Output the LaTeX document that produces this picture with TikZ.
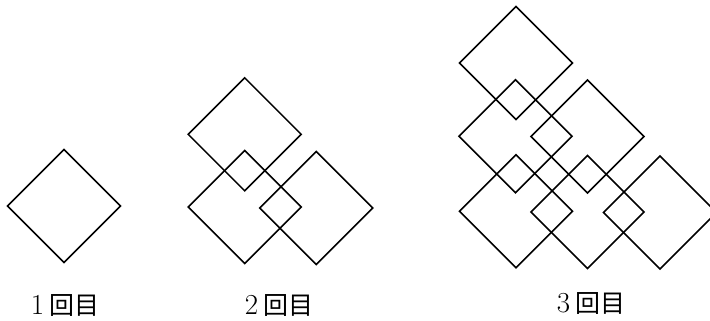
\documentclass[tikz,border=0pt]{standalone}
\usepackage{fontspec}
\newfontfamily\cjk{Noto Sans CJK JP}
\usetikzlibrary{shapes.geometric}

\begin{document}
\begin{tikzpicture}[
	x=1pt, y=-1pt,
	rhomb/.style={diamond, draw, line width=1.5pt, shape aspect=1, minimum size=113pt, inner sep=0pt, outer sep=0pt},
	caption/.style={anchor=base, inner sep=0pt, font=\fontsize{29}{29}\selectfont}
]
	\useasboundingbox (0,0) rectangle (710,321);

	% 1回目
	\node[rhomb] (r1) at (64,206) {};

	% 2回目
	\node[rhomb] (r2t) at (244.7,134.3) {};
	\node[rhomb] (r2l) at (244.7,207) {};
	\node[rhomb] (r2r) at (316.3,208) {};

	% 3回目
	\node[rhomb] (r3t) at (516,63) {};
	\node[rhomb] (r3ml) at (515.5,136.3) {};
	\node[rhomb] (r3mr) at (587.5,136.5) {};
	\node[rhomb] (r3bl) at (516,211.3) {};
	\node[rhomb] (r3bm) at (587.5,212) {};
	\node[rhomb] (r3br) at (660,212.5) {};

	\node[caption] (c1) at (65,314) {1\,{\cjk\fontsize{25}{25}\selectfont 回目}};
	\node[caption] (c2) at (279,314) {2\,{\cjk\fontsize{25}{25}\selectfont 回目}};
	\node[caption] (c3) at (591,312) {3\,{\cjk\fontsize{25}{25}\selectfont 回目}};
\end{tikzpicture}
\end{document}
